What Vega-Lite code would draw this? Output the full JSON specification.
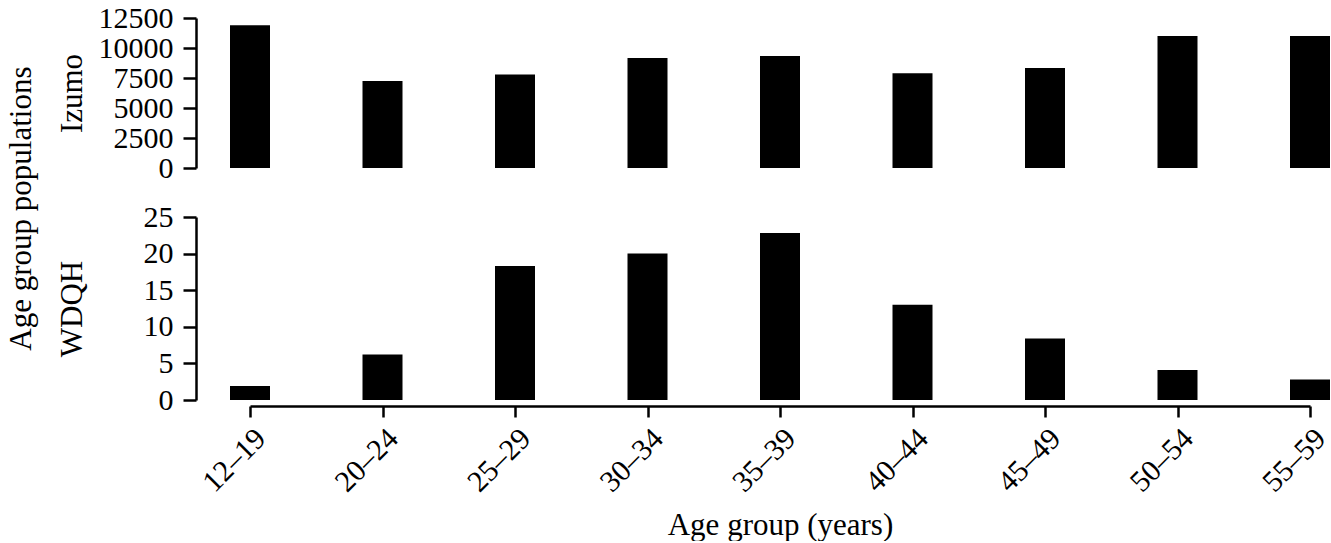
{
  "$schema": "https://vega.github.io/schema/vega-lite/v6.json",
  "padding": {"left": 5, "top": 3, "right": 0, "bottom": 0},
  "background": "white",
  "title": {"text": "Age group populations", "orient": "left", "anchor": "middle", "fontSize": 31, "font": "Liberation Serif", "fontWeight": "normal", "color": "black", "offset": 18, "dx": 63},
  "datasets": {
    "izumo": [
      {"age": "12–19", "pop": 11900},
      {"age": "20–24", "pop": 7250},
      {"age": "25–29", "pop": 7800},
      {"age": "30–34", "pop": 9170},
      {"age": "35–39", "pop": 9330},
      {"age": "40–44", "pop": 7890},
      {"age": "45–49", "pop": 8330},
      {"age": "50–54", "pop": 11000},
      {"age": "55–59", "pop": 11000}
    ],
    "wdqh": [
      {"age": "12–19", "pop": 1.9},
      {"age": "20–24", "pop": 6.2},
      {"age": "25–29", "pop": 18.3},
      {"age": "30–34", "pop": 20.0},
      {"age": "35–39", "pop": 22.8},
      {"age": "40–44", "pop": 13.0},
      {"age": "45–49", "pop": 8.4},
      {"age": "50–54", "pop": 4.1},
      {"age": "55–59", "pop": 2.8}
    ]
  },
  "config": {
    "view": {"stroke": null},
    "font": "Liberation Serif",
    "axis": {
      "grid": false,
      "domainColor": "black",
      "domainWidth": 2.5,
      "tickColor": "black",
      "tickWidth": 2.5,
      "labelColor": "black",
      "labelFont": "Liberation Serif",
      "labelFontSize": 30,
      "labelOverlap": false,
      "titleFont": "Liberation Serif",
      "titleFontSize": 31,
      "titleFontWeight": "normal",
      "titleColor": "black"
    }
  },
  "spacing": 49,
  "bounds": "flush",
  "vconcat": [
    {
      "width": 1060,
      "height": 150,
      "data": {"name": "izumo"},
      "mark": {"type": "bar", "width": 40, "color": "black"},
      "encoding": {
        "x": {"field": "age", "type": "ordinal", "scale": {"type": "point", "padding": 0}, "axis": null},
        "y": {"field": "pop", "type": "quantitative", "scale": {"domain": [0, 12500]},
          "axis": {"title": "Izumo", "values": [0, 2500, 5000, 7500, 10000, 12500], "format": "d", "offset": 54, "tickSize": 13, "labelPadding": 10, "titlePadding": 8, "minExtent": 100}}
      }
    },
    {
      "width": 1060,
      "height": 183,
      "data": {"name": "wdqh"},
      "mark": {"type": "bar", "width": 40, "color": "black"},
      "encoding": {
        "x": {"field": "age", "type": "ordinal", "scale": {"type": "point", "padding": 0},
          "axis": {"title": "Age group (years)", "labelAngle": -45, "offset": 6, "tickSize": 11, "labelPadding": 6, "titlePadding": 13}},
        "y": {"field": "pop", "type": "quantitative", "scale": {"domain": [0, 25]},
          "axis": {"title": "WDQH", "values": [0, 5, 10, 15, 20, 25], "offset": 54, "tickSize": 13, "labelPadding": 10, "titlePadding": 8, "minExtent": 100}}
      }
    }
  ]
}
